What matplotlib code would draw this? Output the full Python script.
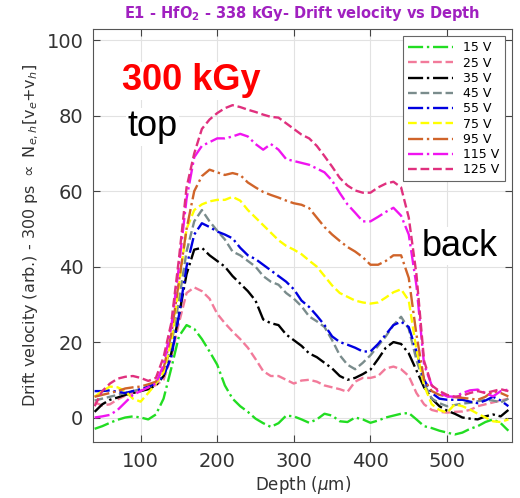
import numpy as np
import matplotlib
matplotlib.use("Agg")
import matplotlib.pyplot as plt

# depth grid (um)
depth = np.arange(40, 590, 10)

v15 = [-3, -2.3, -1.4, -0.6, 0, 0.3, 0, -0.5, 0.8, 5, 13, 21.5, 24.5, 23.5, 20.8, 17.5, 14, 8.5, 5, 3,
       1.5, -0.3, -1.5, -2.5, -1.5, 0.5, 0.3, -0.5, -1.4, -0.5, 1, 0.5, -1, -1.2, 0, -0.5, -1.4, -0.8, 0, 0.5,
       1, 1.2, -0.5, -2.3, -2.8, -3.5, -4, -4.5, -4, -3, -2.3, -1.2, -0.5, -1.5, -3.5]
v25 = [4, 3.2, 3.5, 4.8, 5.8, 6.5, 7, 7.8, 8.6, 10, 16, 25, 33, 34.5, 33.5, 31.5, 27.5, 25, 22.8, 20.8,
       18.5, 15.5, 12.3, 11, 11, 10, 9, 9.8, 10, 9.5, 8.5, 8, 7.5, 6.8, 9.5, 10.5, 10.5, 11, 13, 13.5,
       12.8, 11, 6.5, 3.5, 2, 1.5, 1.3, 1.5, 1.6, 2, 3, 3.5, 4, 4.5, 5]
v35 = [1.5, 3.5, 4.7, 5.3, 6, 6.5, 7, 7.5, 8.5, 11, 17, 27, 38, 44.5, 45, 43, 41.5, 40, 37.5, 35.5,
       33.5, 31, 26, 25, 24.5, 22, 20.5, 19, 17, 16, 14.5, 13, 11, 10, 10.5, 11.5, 12.7, 15.5, 18.5, 20,
       19.5, 17, 12.5, 8, 5, 3, 1.8, 1, 0, -0.3, -0.5, 0.3, 0.8, 0.3, 2]
v45 = [4.5, 5, 5.5, 6, 6.5, 7, 7.5, 8, 9, 12, 19, 31, 44, 52, 55, 52, 49.5, 47.2, 44, 43,
       41.5, 40, 37.5, 36, 35.2, 33, 31.5, 29.5, 26.8, 25.5, 24, 20.5, 16.5, 14, 12.8, 14.5, 16.5, 19, 21.5, 24.5,
       26.7, 23.5, 15.3, 9, 5, 3.8, 3, 3.3, 3.7, 3.9, 4.3, 4.7, 4.5, 4, 5]
v55 = [7, 7, 7.2, 6.8, 6.5, 7, 7.5, 8.2, 9, 11, 16, 27, 40, 48.5, 51.5, 50.5, 49.3, 48.5, 47.5, 45,
       43, 42, 40.5, 39, 37.5, 36, 34, 31, 29.3, 27, 24.5, 21.5, 20, 19.3, 18.5, 17.5, 17.5, 19.5, 22, 24.5,
       25.4, 24, 17.5, 10, 6.5, 5, 4.7, 4.7, 4.7, 4.2, 3.8, 4.5, 5.5, 4.5, 3]
v75 = [5.5, 7, 8.2, 8, 7, 5, 4.2, 6.5, 9, 12, 20, 35, 50, 55, 56.5, 57.3, 57.7, 57.7, 58.5, 57.5,
       55, 53, 51, 49, 47, 45.5, 44.5, 43.3, 41.6, 40, 37.5, 35, 33, 32, 31, 30.5, 30.2, 30.5, 31.8, 33.2,
       34, 31, 18, 8.5, 3.5, 2, 1.3, 3.5, 3, 2.1, 1, 0, -1, -1.2, -0.5]
v95 = [5.5, 6, 6.5, 7, 7.7, 8, 8.2, 8.8, 9.5, 13, 22, 36, 50, 60, 64, 65.7, 65, 64.3, 64.8, 64.3,
       62.3, 61, 59.8, 59, 58.3, 57.5, 56.8, 56.4, 55.5, 53, 50.5, 48.5, 46.8, 45.2, 44, 42.5, 40.5, 40.5, 41.5, 43,
       43, 37, 22, 10, 7, 6, 5.6, 5.4, 5.2, 5, 4.7, 5.5, 7, 6.5, 5.6]
v115 = [0, 0.3, 0.7, 2, 4, 6, 7, 8, 9, 14, 24, 40, 58, 69, 72, 73, 74, 74, 74.5, 75.2,
        74.5, 72.5, 71, 72.5, 71, 68.5, 68, 67.5, 67, 66, 65, 62.8, 59.5, 56.5, 54.3, 52, 52, 53.2, 54.5, 55.6,
        53.5, 48.5, 35, 14, 8.5, 6.5, 5.6, 5.5, 6.5, 7.2, 7.4, 6.5, 5.6, 7, 7.4]
v125 = [3, 7, 9, 10.3, 10.8, 11, 10.5, 9.7, 10.5, 16, 25, 42, 61, 70, 76.5, 79, 80.7, 82, 82.8, 82.3,
        81.6, 81, 80.3, 79.7, 79.5, 78, 76.5, 75, 74, 72, 69.3, 66.5, 63.5, 61.5, 60.2, 59.6, 59.6, 61, 62, 62.5,
        61, 53, 38, 15, 8.5, 7, 6, 5.5, 5.8, 6.5, 7, 6.5, 7, 7.5, 7]

labels = ['15 V', '25 V', '35 V', '45 V', '55 V', '75 V', '95 V', '115 V', '125 V']
colors = ['#22dd22', '#f27a9a', '#000000', '#7a8c8c', '#0000e0', '#ffff00', '#d0642a', '#f014f0', '#e0307e']
styles = ['-.', '--', '-.', '--', '-.', '--', '-.', '-.', '--']
series = [v15, v25, v35, v45, v55, v75, v95, v115, v125]

fig = plt.figure(figsize=(5.2, 4.98), dpi=100)
ax = fig.add_axes([0.179, 0.1124, 0.806, 0.8294])

for vals, lab, col, ls in zip(series, labels, colors, styles):
    ax.plot(depth, vals, ls, color=col, lw=1.7, label=lab)

ax.set_xlim(38, 585)
ax.set_ylim(-6.5, 103)
ax.set_xticks([100, 200, 300, 400, 500])
ax.set_yticks([0, 20, 40, 60, 80, 100])
ax.grid(True, color='#e2e2e2', lw=0.8)
ax.set_axisbelow(True)
ax.tick_params(direction='in', length=5, top=True, right=True, labelsize=14,
               labelcolor='#333333', color='#444444', pad=7)
for s in ax.spines.values():
    s.set_color('#555555')

ax.set_xlabel(r'Depth ($\mu$m)', fontsize=12, color='#333333', labelpad=2)
ax.set_ylabel(r'Drift velocity (arb.) - 300 ps $\propto$ N$_{e,h}$[v$_e$+v$_h$]',
              fontsize=11.5, color='#333333', labelpad=4)
ax.set_title(r'E1 - HfO$_\mathbf{2}$ - 338 kGy- Drift velocity vs Depth',
             fontsize=10.5, fontweight='bold', color='#a020c0', pad=8)

box = dict(facecolor='white', edgecolor='none', pad=1)
ax.text(75.6, 86.8, '300 kGy', color='red', fontsize=26, fontweight='bold',
        family='Liberation Sans', va='baseline', bbox=box)
ax.text(83.4, 74.5, 'top', color='black', fontsize=26,
        family='Liberation Sans', va='baseline', bbox=box)
ax.text(467, 42.9, 'back', color='black', fontsize=26,
        family='Liberation Sans', va='baseline', bbox=box)

leg = ax.legend(loc='upper right', fontsize=9, handlelength=3.6, fancybox=False,
                framealpha=1, edgecolor='#666666', borderaxespad=0.6,
                labelspacing=0.18, borderpad=0.4)
leg.get_frame().set_linewidth(0.8)

fig.savefig('out.png', dpi=100)
